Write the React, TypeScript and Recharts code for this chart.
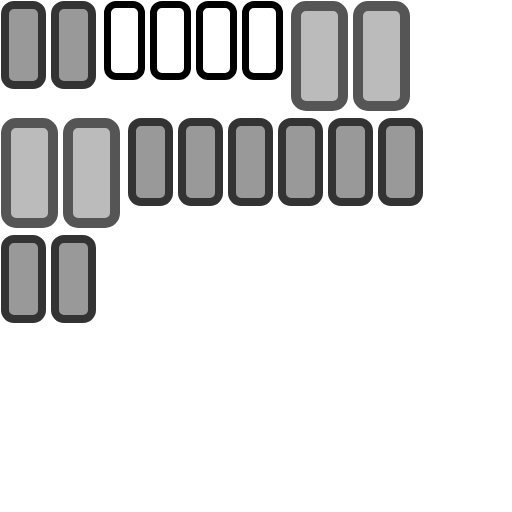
import React from "react";
import { ScatterChart, Scatter, XAxis, YAxis } from "recharts";

// groups of units, in reading order
const groupKinds = ["dark", "outline", "light", "dark"];
const groupCounts = [2, 4, 4, 8];
const unitsPerRow = 8;

const kindStyle: Record<string, any> = {
  dark: { w: 45, h: 88, fill: "#999999", stroke: "#333333", sw: 8, r: 13 },
  outline: { w: 41, h: 79, fill: "#ffffff", stroke: "#000000", sw: 7, r: 12 },
  light: { w: 57, h: 110, fill: "#bbbbbb", stroke: "#555555", sw: 10, r: 15 },
};

const LEFT = 1;
const TOP = 1;
const GAP = 5;
const GROUP_GAP = 3;
const ROW_GAP = 7;

// flow the units into rows, top aligned
function buildUnits() {
  const seq: { kind: string; group: number }[] = [];
  groupKinds.forEach((k, g) => {
    for (let i = 0; i < groupCounts[g]; i++) seq.push({ kind: k, group: g });
  });
  const out: any[] = [];
  let x = LEFT;
  let y = TOP;
  let rowH = 0;
  seq.forEach((u, i) => {
    const s = kindStyle[u.kind];
    if (i > 0 && i % unitsPerRow === 0) {
      x = LEFT;
      y += rowH + ROW_GAP;
      rowH = 0;
    } else if (i > 0) {
      x += GAP + (seq[i - 1].group !== u.group ? GROUP_GAP : 0);
    }
    out.push({ x: x + s.w / 2, y: y + s.h / 2, kind: u.kind });
    x += s.w;
    rowH = Math.max(rowH, s.h);
  });
  return out;
}

const units = buildUnits();

const UnitShape = (props: any) => {
  const { cx, cy, payload } = props;
  const s = kindStyle[payload.kind];
  const w = s.w - s.sw;
  const h = s.h - s.sw;
  return (
    <rect
      x={cx - w / 2}
      y={cy - h / 2}
      width={w}
      height={h}
      rx={s.r - s.sw / 2}
      ry={s.r - s.sw / 2}
      fill={s.fill}
      stroke={s.stroke}
      strokeWidth={s.sw}
      strokeLinejoin="round"
    />
  );
};

export default function App() {
  return (
    <div style={{ position: "absolute", left: 0, top: 0, background: "#fff" }}>
      <ScatterChart width={512} height={512} margin={{ top: 0, right: 0, bottom: 0, left: 0 }}>
        <XAxis type="number" dataKey="x" domain={[0, 512]} hide />
        <YAxis type="number" dataKey="y" domain={[0, 512]} reversed hide />
        <Scatter data={units} shape={UnitShape} isAnimationActive={false} />
      </ScatterChart>
    </div>
  );
}
